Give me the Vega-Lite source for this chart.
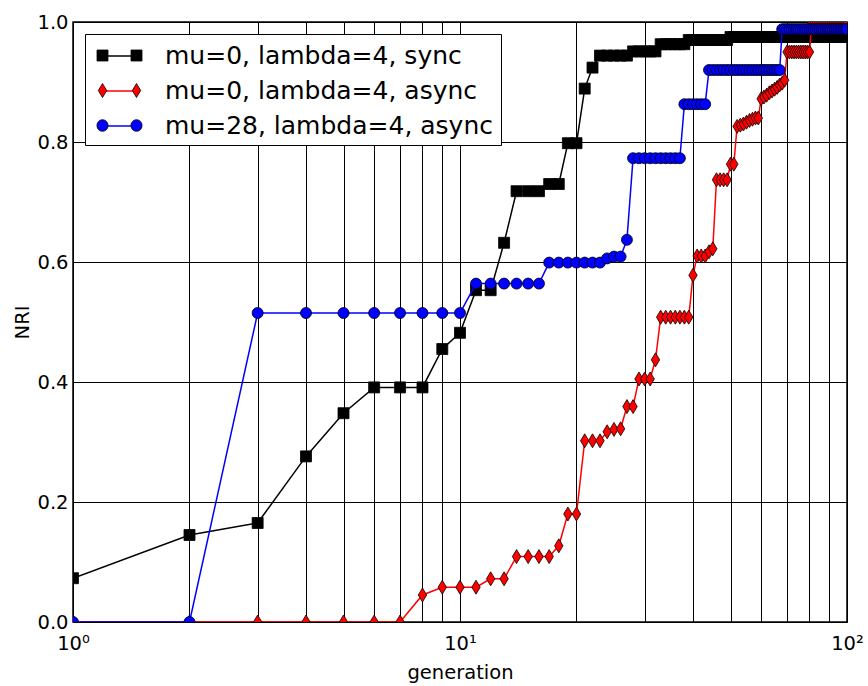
{
"$schema": "https://vega.github.io/schema/vega-lite/v6.json",
"width": 774, "height": 600,
"autosize": "none",
"padding": {"left": 73, "top": 22, "right": 21, "bottom": 64},
"config": {"font": "DejaVu Sans", "view": {"stroke": "black", "strokeWidth": 1.5}},
"data": {"values": [
{"s":"a","g":1,"v":0.073},{"s":"a","g":2,"v":0.145},{"s":"a","g":3,"v":0.165},{"s":"a","g":4,"v":0.276},{"s":"a","g":5,"v":0.348},{"s":"a","g":6,"v":0.391},{"s":"a","g":7,"v":0.391},{"s":"a","g":8,"v":0.391},{"s":"a","g":9,"v":0.455},{"s":"a","g":10,"v":0.482},
{"s":"a","g":11,"v":0.553},{"s":"a","g":12,"v":0.553},{"s":"a","g":13,"v":0.632},{"s":"a","g":14,"v":0.718},{"s":"a","g":15,"v":0.718},{"s":"a","g":16,"v":0.718},{"s":"a","g":17,"v":0.73},{"s":"a","g":18,"v":0.73},{"s":"a","g":19,"v":0.798},{"s":"a","g":20,"v":0.798},
{"s":"a","g":21,"v":0.889},{"s":"a","g":22,"v":0.924},{"s":"a","g":23,"v":0.944},{"s":"a","g":24,"v":0.944},{"s":"a","g":25,"v":0.944},{"s":"a","g":26,"v":0.944},{"s":"a","g":27,"v":0.944},{"s":"a","g":28,"v":0.951},{"s":"a","g":29,"v":0.951},{"s":"a","g":30,"v":0.951},
{"s":"a","g":31,"v":0.951},{"s":"a","g":32,"v":0.951},{"s":"a","g":33,"v":0.963},{"s":"a","g":34,"v":0.963},{"s":"a","g":35,"v":0.963},{"s":"a","g":36,"v":0.963},{"s":"a","g":37,"v":0.963},{"s":"a","g":38,"v":0.963},{"s":"a","g":39,"v":0.97},{"s":"a","g":40,"v":0.97},
{"s":"a","g":41,"v":0.97},{"s":"a","g":42,"v":0.97},{"s":"a","g":43,"v":0.97},{"s":"a","g":44,"v":0.97},{"s":"a","g":45,"v":0.97},{"s":"a","g":46,"v":0.97},{"s":"a","g":47,"v":0.97},{"s":"a","g":48,"v":0.97},{"s":"a","g":49,"v":0.97},{"s":"a","g":50,"v":0.975},
{"s":"a","g":51,"v":0.975},{"s":"a","g":52,"v":0.975},{"s":"a","g":53,"v":0.975},{"s":"a","g":54,"v":0.975},{"s":"a","g":55,"v":0.975},{"s":"a","g":56,"v":0.975},{"s":"a","g":57,"v":0.975},{"s":"a","g":58,"v":0.975},{"s":"a","g":59,"v":0.975},{"s":"a","g":60,"v":0.975},
{"s":"a","g":61,"v":0.975},{"s":"a","g":62,"v":0.975},{"s":"a","g":63,"v":0.975},{"s":"a","g":64,"v":0.975},{"s":"a","g":65,"v":0.975},{"s":"a","g":66,"v":0.975},{"s":"a","g":67,"v":0.975},{"s":"a","g":68,"v":0.975},{"s":"a","g":69,"v":0.975},{"s":"a","g":70,"v":0.975},
{"s":"a","g":71,"v":0.975},{"s":"a","g":72,"v":0.975},{"s":"a","g":73,"v":0.975},{"s":"a","g":74,"v":0.975},{"s":"a","g":75,"v":0.975},{"s":"a","g":76,"v":0.975},{"s":"a","g":77,"v":0.975},{"s":"a","g":78,"v":0.975},{"s":"a","g":79,"v":0.975},{"s":"a","g":80,"v":0.975},
{"s":"a","g":81,"v":0.975},{"s":"a","g":82,"v":0.975},{"s":"a","g":83,"v":0.975},{"s":"a","g":84,"v":0.975},{"s":"a","g":85,"v":0.975},{"s":"a","g":86,"v":0.975},{"s":"a","g":87,"v":0.975},{"s":"a","g":88,"v":0.975},{"s":"a","g":89,"v":0.975},{"s":"a","g":90,"v":0.975},
{"s":"a","g":91,"v":0.975},{"s":"a","g":92,"v":0.975},{"s":"a","g":93,"v":0.975},{"s":"a","g":94,"v":0.975},{"s":"a","g":95,"v":0.975},{"s":"a","g":96,"v":0.975},{"s":"a","g":97,"v":0.975},{"s":"a","g":98,"v":0.975},{"s":"a","g":99,"v":0.975},{"s":"a","g":100,"v":0.975},
{"s":"b","g":1,"v":0},{"s":"b","g":2,"v":0},{"s":"b","g":3,"v":0},{"s":"b","g":4,"v":0},{"s":"b","g":5,"v":0},{"s":"b","g":6,"v":0},{"s":"b","g":7,"v":0},{"s":"b","g":8,"v":0.045},{"s":"b","g":9,"v":0.058},{"s":"b","g":10,"v":0.058},
{"s":"b","g":11,"v":0.058},{"s":"b","g":12,"v":0.072},{"s":"b","g":13,"v":0.072},{"s":"b","g":14,"v":0.109},{"s":"b","g":15,"v":0.109},{"s":"b","g":16,"v":0.109},{"s":"b","g":17,"v":0.109},{"s":"b","g":18,"v":0.127},{"s":"b","g":19,"v":0.18},{"s":"b","g":20,"v":0.18},
{"s":"b","g":21,"v":0.302},{"s":"b","g":22,"v":0.302},{"s":"b","g":23,"v":0.302},{"s":"b","g":24,"v":0.317},{"s":"b","g":25,"v":0.321},{"s":"b","g":26,"v":0.322},{"s":"b","g":27,"v":0.359},{"s":"b","g":28,"v":0.359},{"s":"b","g":29,"v":0.405},{"s":"b","g":30,"v":0.405},
{"s":"b","g":31,"v":0.405},{"s":"b","g":32,"v":0.437},{"s":"b","g":33,"v":0.508},{"s":"b","g":34,"v":0.508},{"s":"b","g":35,"v":0.508},{"s":"b","g":36,"v":0.508},{"s":"b","g":37,"v":0.508},{"s":"b","g":38,"v":0.508},{"s":"b","g":39,"v":0.508},{"s":"b","g":40,"v":0.578},
{"s":"b","g":41,"v":0.61},{"s":"b","g":42,"v":0.61},{"s":"b","g":43,"v":0.61},{"s":"b","g":44,"v":0.617},{"s":"b","g":45,"v":0.622},{"s":"b","g":46,"v":0.737},{"s":"b","g":47,"v":0.737},{"s":"b","g":48,"v":0.737},{"s":"b","g":49,"v":0.737},{"s":"b","g":50,"v":0.763},
{"s":"b","g":51,"v":0.763},{"s":"b","g":52,"v":0.826},{"s":"b","g":53,"v":0.828},{"s":"b","g":54,"v":0.83},{"s":"b","g":55,"v":0.833},{"s":"b","g":56,"v":0.836},{"s":"b","g":57,"v":0.838},{"s":"b","g":58,"v":0.84},{"s":"b","g":59,"v":0.84},{"s":"b","g":60,"v":0.872},
{"s":"b","g":61,"v":0.875},{"s":"b","g":62,"v":0.878},{"s":"b","g":63,"v":0.882},{"s":"b","g":64,"v":0.885},{"s":"b","g":65,"v":0.888},{"s":"b","g":66,"v":0.891},{"s":"b","g":67,"v":0.895},{"s":"b","g":68,"v":0.898},{"s":"b","g":69,"v":0.903},{"s":"b","g":70,"v":0.95},
{"s":"b","g":71,"v":0.95},{"s":"b","g":72,"v":0.95},{"s":"b","g":73,"v":0.95},{"s":"b","g":74,"v":0.95},{"s":"b","g":75,"v":0.95},{"s":"b","g":76,"v":0.95},{"s":"b","g":77,"v":0.95},{"s":"b","g":78,"v":0.95},{"s":"b","g":79,"v":0.95},{"s":"b","g":80,"v":0.95},
{"s":"b","g":81,"v":0.997},{"s":"b","g":82,"v":0.997},{"s":"b","g":83,"v":0.997},{"s":"b","g":84,"v":0.997},{"s":"b","g":85,"v":0.997},{"s":"b","g":86,"v":0.997},{"s":"b","g":87,"v":0.997},{"s":"b","g":88,"v":0.997},{"s":"b","g":89,"v":0.997},{"s":"b","g":90,"v":0.997},
{"s":"b","g":91,"v":0.997},{"s":"b","g":92,"v":0.997},{"s":"b","g":93,"v":0.997},{"s":"b","g":94,"v":0.997},{"s":"b","g":95,"v":0.997},{"s":"b","g":96,"v":0.997},{"s":"b","g":97,"v":0.997},{"s":"b","g":98,"v":0.997},{"s":"b","g":99,"v":0.997},{"s":"b","g":100,"v":0.997},
{"s":"c","g":1,"v":0},{"s":"c","g":2,"v":0},{"s":"c","g":3,"v":0.515},{"s":"c","g":4,"v":0.515},{"s":"c","g":5,"v":0.515},{"s":"c","g":6,"v":0.515},{"s":"c","g":7,"v":0.515},{"s":"c","g":8,"v":0.515},{"s":"c","g":9,"v":0.515},{"s":"c","g":10,"v":0.515},
{"s":"c","g":11,"v":0.564},{"s":"c","g":12,"v":0.564},{"s":"c","g":13,"v":0.564},{"s":"c","g":14,"v":0.564},{"s":"c","g":15,"v":0.564},{"s":"c","g":16,"v":0.564},{"s":"c","g":17,"v":0.599},{"s":"c","g":18,"v":0.599},{"s":"c","g":19,"v":0.599},{"s":"c","g":20,"v":0.599},
{"s":"c","g":21,"v":0.599},{"s":"c","g":22,"v":0.599},{"s":"c","g":23,"v":0.599},{"s":"c","g":24,"v":0.606},{"s":"c","g":25,"v":0.609},{"s":"c","g":26,"v":0.609},{"s":"c","g":27,"v":0.637},{"s":"c","g":28,"v":0.773},{"s":"c","g":29,"v":0.773},{"s":"c","g":30,"v":0.773},
{"s":"c","g":31,"v":0.773},{"s":"c","g":32,"v":0.773},{"s":"c","g":33,"v":0.773},{"s":"c","g":34,"v":0.773},{"s":"c","g":35,"v":0.773},{"s":"c","g":36,"v":0.773},{"s":"c","g":37,"v":0.773},{"s":"c","g":38,"v":0.863},{"s":"c","g":39,"v":0.863},{"s":"c","g":40,"v":0.863},
{"s":"c","g":41,"v":0.863},{"s":"c","g":42,"v":0.863},{"s":"c","g":43,"v":0.863},{"s":"c","g":44,"v":0.92},{"s":"c","g":45,"v":0.92},{"s":"c","g":46,"v":0.92},{"s":"c","g":47,"v":0.92},{"s":"c","g":48,"v":0.92},{"s":"c","g":49,"v":0.92},{"s":"c","g":50,"v":0.92},
{"s":"c","g":51,"v":0.92},{"s":"c","g":52,"v":0.92},{"s":"c","g":53,"v":0.92},{"s":"c","g":54,"v":0.92},{"s":"c","g":55,"v":0.92},{"s":"c","g":56,"v":0.92},{"s":"c","g":57,"v":0.92},{"s":"c","g":58,"v":0.92},{"s":"c","g":59,"v":0.92},{"s":"c","g":60,"v":0.92},
{"s":"c","g":61,"v":0.92},{"s":"c","g":62,"v":0.92},{"s":"c","g":63,"v":0.92},{"s":"c","g":64,"v":0.92},{"s":"c","g":65,"v":0.92},{"s":"c","g":66,"v":0.92},{"s":"c","g":67,"v":0.92},{"s":"c","g":68,"v":0.988},{"s":"c","g":69,"v":0.988},{"s":"c","g":70,"v":0.988},
{"s":"c","g":71,"v":0.988},{"s":"c","g":72,"v":0.988},{"s":"c","g":73,"v":0.988},{"s":"c","g":74,"v":0.988},{"s":"c","g":75,"v":0.988},{"s":"c","g":76,"v":0.988},{"s":"c","g":77,"v":0.988},{"s":"c","g":78,"v":0.988},{"s":"c","g":79,"v":0.988},{"s":"c","g":80,"v":0.988},
{"s":"c","g":81,"v":0.988},{"s":"c","g":82,"v":0.988},{"s":"c","g":83,"v":0.988},{"s":"c","g":84,"v":0.988},{"s":"c","g":85,"v":0.988},{"s":"c","g":86,"v":0.988},{"s":"c","g":87,"v":0.988},{"s":"c","g":88,"v":0.988},{"s":"c","g":89,"v":0.988},{"s":"c","g":90,"v":0.988},
{"s":"c","g":91,"v":0.988},{"s":"c","g":92,"v":0.988},{"s":"c","g":93,"v":0.988},{"s":"c","g":94,"v":0.988},{"s":"c","g":95,"v":0.988},{"s":"c","g":96,"v":0.988},{"s":"c","g":97,"v":0.988},{"s":"c","g":98,"v":0.988},{"s":"c","g":99,"v":0.988},{"s":"c","g":100,"v":0.988}
]},
"encoding": {
  "x": {"field": "g", "type": "quantitative", "scale": {"type": "log", "domain": [1, 100]},
    "axis": {"title": "generation", "values": [1,2,3,4,5,6,7,8,9,10,20,30,40,50,60,70,80,90,100],
      "labelExpr": "datum.value == 1 ? '10⁰' : datum.value == 10 ? '10¹' : datum.value == 100 ? '10²' : ''",
      "grid": true, "gridColor": "#000", "gridOpacity": 1, "gridWidth": 1, "domain": false, "ticks": false,
      "labelFontSize": 19.5, "labelPadding": 12, "labelFlush": false, "labelOverlap": false, "labelColor": "#000",
      "titleFontSize": 19.5, "titleFontWeight": "normal", "titleColor": "#000", "titlePadding": 11}},
  "y": {"field": "v", "type": "quantitative", "scale": {"domain": [0, 1]},
    "axis": {"title": "NRI", "values": [0,0.2,0.4,0.6,0.8,1], "format": ".1f",
      "grid": true, "gridColor": "#000", "gridOpacity": 1, "gridWidth": 1, "domain": false, "ticks": false,
      "labelFontSize": 19.5, "labelPadding": 5, "labelColor": "#000", "labelFlush": false,
      "titleFontSize": 19.5, "titleFontWeight": "normal", "titleColor": "#000", "titlePadding": 4}}
},
"layer": [
  {"transform": [{"filter": "datum.s === 'a'"}],
   "mark": {"type": "line", "strokeWidth": 1.5, "clip": true},
   "encoding": {"stroke": {"field": "s", "type": "nominal",
     "scale": {"domain": ["a","b","c"], "range": ["#000000","#ff0000","#0000ff"]},
     "legend": {"orient": "top-left", "offset": 12, "zindex": 1, "title": null,
       "symbolType": "M-1.5,-0.467M1.5,0.467M-1.133,0H1.133", "symbolSize": 900, "symbolStrokeWidth": 1.5,
       "padding": 6, "rowPadding": 6, "labelFontSize": 25, "labelOffset": 30, "symbolOffset": 13, "labelLimit": 500,
       "fillColor": "white", "strokeColor": "black", "cornerRadius": 0, "labelOpacity": 0,
       "labelExpr": "datum.label === 'a' ? 'mu=0, lambda=4, sync' : datum.label === 'b' ? 'mu=0, lambda=4, async' : 'mu=28, lambda=4, async'"}}}},
  {"transform": [{"filter": "datum.s === 'a'"}],
   "mark": {"type": "point", "filled": true, "shape": "square", "size": 121, "stroke": "black", "strokeWidth": 0.8, "opacity": 1, "clip": true},
   "encoding": {"fill": {"field": "s", "type": "nominal",
     "scale": {"domain": ["a","b","c"], "range": ["#000000","#ff0000","#0000ff"]},
     "legend": {"orient": "none", "legendX": 12, "legendY": 12, "zindex": 2, "title": null,
       "symbolSize": 900, "symbolStrokeWidth": 0.8, "symbolStrokeColor": "black", "symbolOpacity": 1,
       "padding": 6, "rowPadding": 6, "labelFontSize": 25, "labelOffset": 30, "symbolOffset": 13, "labelLimit": 500,
       "labelColor": "#000",
       "labelExpr": "datum.label === 'a' ? 'mu=0, lambda=4, sync' : datum.label === 'b' ? 'mu=0, lambda=4, async' : 'mu=28, lambda=4, async'",
       "encode": {"symbols": {"update": {"shape": {"signal": "datum.value === 'a' ? 'M-1.5,-0.367H-0.767V0.367H-1.5ZM0.767,-0.367H1.5V0.367H0.767Z' : datum.value === 'b' ? 'M-1.133,-0.467L-0.853,0L-1.133,0.467L-1.413,0ZM1.133,-0.467L1.413,0L1.133,0.467L0.853,0Z' : 'M-1.5,0A0.367,0.367,0,1,1,-0.767,0A0.367,0.367,0,1,1,-1.5,0ZM0.767,0A0.367,0.367,0,1,1,1.5,0A0.367,0.367,0,1,1,0.767,0Z'"},
         "stroke": {"value": "black"}, "strokeWidth": {"value": 0.8}}}}}}}},
  {"transform": [{"filter": "datum.s === 'b'"}],
   "mark": {"type": "line", "strokeWidth": 1.5, "clip": true},
   "encoding": {"stroke": {"field": "s", "type": "nominal"}}},
  {"transform": [{"filter": "datum.s === 'b'"}],
   "mark": {"type": "point", "filled": true, "shape": "M0,-1L0.6,0L0,1L-0.6,0Z", "size": 196, "stroke": "black", "strokeWidth": 0.8, "opacity": 1, "clip": true},
   "encoding": {"fill": {"field": "s", "type": "nominal"}}},
  {"transform": [{"filter": "datum.s === 'c'"}],
   "mark": {"type": "line", "strokeWidth": 1.5, "clip": true},
   "encoding": {"stroke": {"field": "s", "type": "nominal"}}},
  {"transform": [{"filter": "datum.s === 'c'"}],
   "mark": {"type": "point", "filled": true, "shape": "circle", "size": 121, "stroke": "black", "strokeWidth": 0.8, "opacity": 1, "clip": true},
   "encoding": {"fill": {"field": "s", "type": "nominal"}}}
]
}
